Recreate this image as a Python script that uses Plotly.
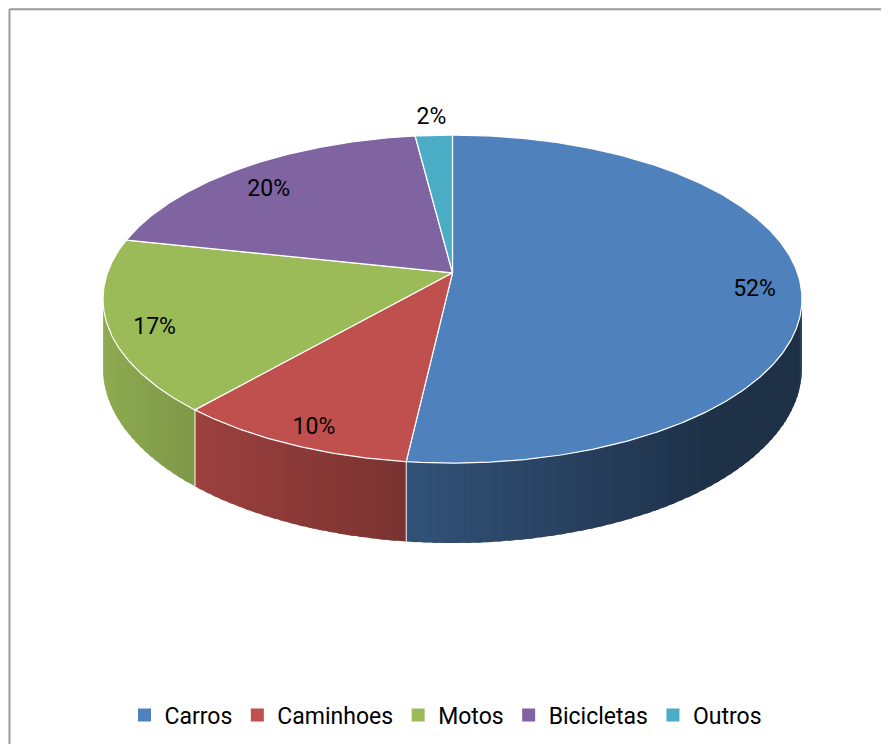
import numpy as np
import plotly.graph_objects as go

# ---------------- data ----------------
categories = ["Carros", "Caminhoes", "Motos", "Bicicletas", "Outros"]
values = [51.8, 9.6, 17.0, 19.6, 2.0]
colors = ["#4F81BD", "#C0504D", "#9BBB59", "#8064A2", "#4BACC6"]

# ---------------- layout constants (pixels) ----------------
W, H = 889, 752
OFF = 8                 # page body margin
FW, FH = W - 2 * OFF, H - 2 * OFF   # figure size so the page does not overflow
CX, CY = 452.5, 272.8   # projected centre of the top face
R = 345.0               # horizontal radius
RS = 159.8              # vertical radius (tilted)
K = 0.16                # perspective strength
DROP = 80 * (1 - K)     # slab thickness
FONT = "Roboto"


def proj(theta, r=1.0, drop=0.0):
    den = 1 + K * r * np.cos(theta)
    x = CX + r * R * np.sin(theta) / den
    y = CY - r * RS * np.cos(theta) / den + drop / den
    return x, y


def hex2rgb(h):
    h = h.lstrip("#")
    return tuple(int(h[i:i + 2], 16) for i in (0, 2, 4))


def shade(hexcol, theta):
    f = max(0.38, 0.6 - 0.33 * np.sin(theta))
    r, g, b = hex2rgb(hexcol)
    return f"rgb({int(r * f)},{int(g * f)},{int(b * f)})"


total = float(sum(values))
fracs = [v / total for v in values]
starts = np.cumsum([0] + fracs[:-1]) * 2 * np.pi
ends = np.cumsum(fracs) * 2 * np.pi

fig = go.Figure()

# ---------------- side walls ----------------
th_r = np.arccos(-K)
th_l = 2 * np.pi - th_r
ovl = np.radians(0.8)
for a, b, col in zip(starts, ends, colors):
    lo, hi = max(a, th_r), min(b, th_l)
    if hi <= lo:
        continue
    n = max(1, int(np.degrees(hi - lo) / 1.5))
    edges = np.linspace(lo, hi, n + 1)
    for t0, t1 in zip(edges[:-1], edges[1:]):
        ts = np.linspace(t0, min(t1 + ovl, hi), 5)
        xt, yt = proj(ts)
        xb, yb = proj(ts[::-1], drop=DROP)
        xs = np.concatenate([xt, xb, xt[:1]])
        ys = np.concatenate([yt, yb, yt[:1]])
        c = shade(col, 0.5 * (t0 + t1))
        fig.add_trace(go.Scatter(x=xs, y=ys, mode="lines", fill="toself",
                                 fillcolor=c, line=dict(color=c, width=0),
                                 hoverinfo="skip", showlegend=False))
    # boundary lines on the side
    for t in (a, b):
        if th_r < t < th_l:
            x0, y0 = proj(t)
            x1, y1 = proj(t, drop=DROP)
            fig.add_trace(go.Scatter(x=[x0, x1], y=[y0, y1], mode="lines",
                                     line=dict(color="rgba(255,255,255,0.6)", width=1.2),
                                     hoverinfo="skip", showlegend=False))

# ---------------- top faces ----------------
for name, a, b, col, v in zip(categories, starts, ends, colors, values):
    ts = np.linspace(a, b, max(3, int(np.degrees(b - a) * 2)))
    xa, ya = proj(ts)
    xs = np.concatenate([[CX], xa, [CX]])
    ys = np.concatenate([[CY], ya, [CY]])
    fig.add_trace(go.Scatter(x=xs, y=ys, mode="lines", fill="toself",
                             fillcolor=col, line=dict(color="white", width=1.2),
                             name=name, hovertemplate=f"{name}: {v:.0f}%<extra></extra>",
                             showlegend=False))

# ---------------- data labels ----------------
lx, ly, lt = [], [], []
for a, b, f, v in zip(starts, ends, fracs, values):
    mid = 0.5 * (a + b)
    if f >= 0.05:
        x, y = proj(mid, r=0.87)
        y += 10
    else:
        x, y = proj(mid, r=1.15)
    lx.append(x)
    ly.append(y)
    lt.append(f"{v:.0f}%")
fig.add_trace(go.Scatter(x=lx, y=ly, mode="text", text=lt,
                         textfont=dict(family=FONT, size=23, color="#000000"),
                         hoverinfo="skip", showlegend=False))

# ---------------- legend entries ----------------
for name, col in zip(categories, colors):
    fig.add_trace(go.Scatter(x=[None], y=[None], mode="markers", name=name,
                             marker=dict(symbol="square", size=13, color=col)))

border = dict(color="#9a9a9a", width=2)
fig.update_layout(
    width=FW, height=FH,
    margin=dict(l=0, r=0, t=0, b=0),
    paper_bgcolor="white", plot_bgcolor="white",
    xaxis=dict(range=[OFF, OFF + FW], visible=False, fixedrange=True),
    yaxis=dict(range=[OFF + FH, OFF], visible=False, fixedrange=True),
    showlegend=True,
    legend=dict(orientation="h", x=(446 - OFF) / FW, xanchor="center",
                y=1 - (715 - OFF) / FH, yanchor="middle",
                font=dict(family=FONT, size=23, color="#000000"),
                itemwidth=30, tracegroupgap=0, bgcolor="rgba(0,0,0,0)"),
    shapes=[
        dict(type="line", xref="paper", yref="paper", x0=1.5 / FW, x1=1.5 / FW,
             y0=0, y1=1 - 1.2 / FH, line=border, layer="below"),
        dict(type="line", xref="paper", yref="paper", x0=1.5 / FW, x1=1,
             y0=1 - 1.2 / FH, y1=1 - 1.2 / FH, line=border, layer="below"),
    ],
)

fig.write_html("out.html")
